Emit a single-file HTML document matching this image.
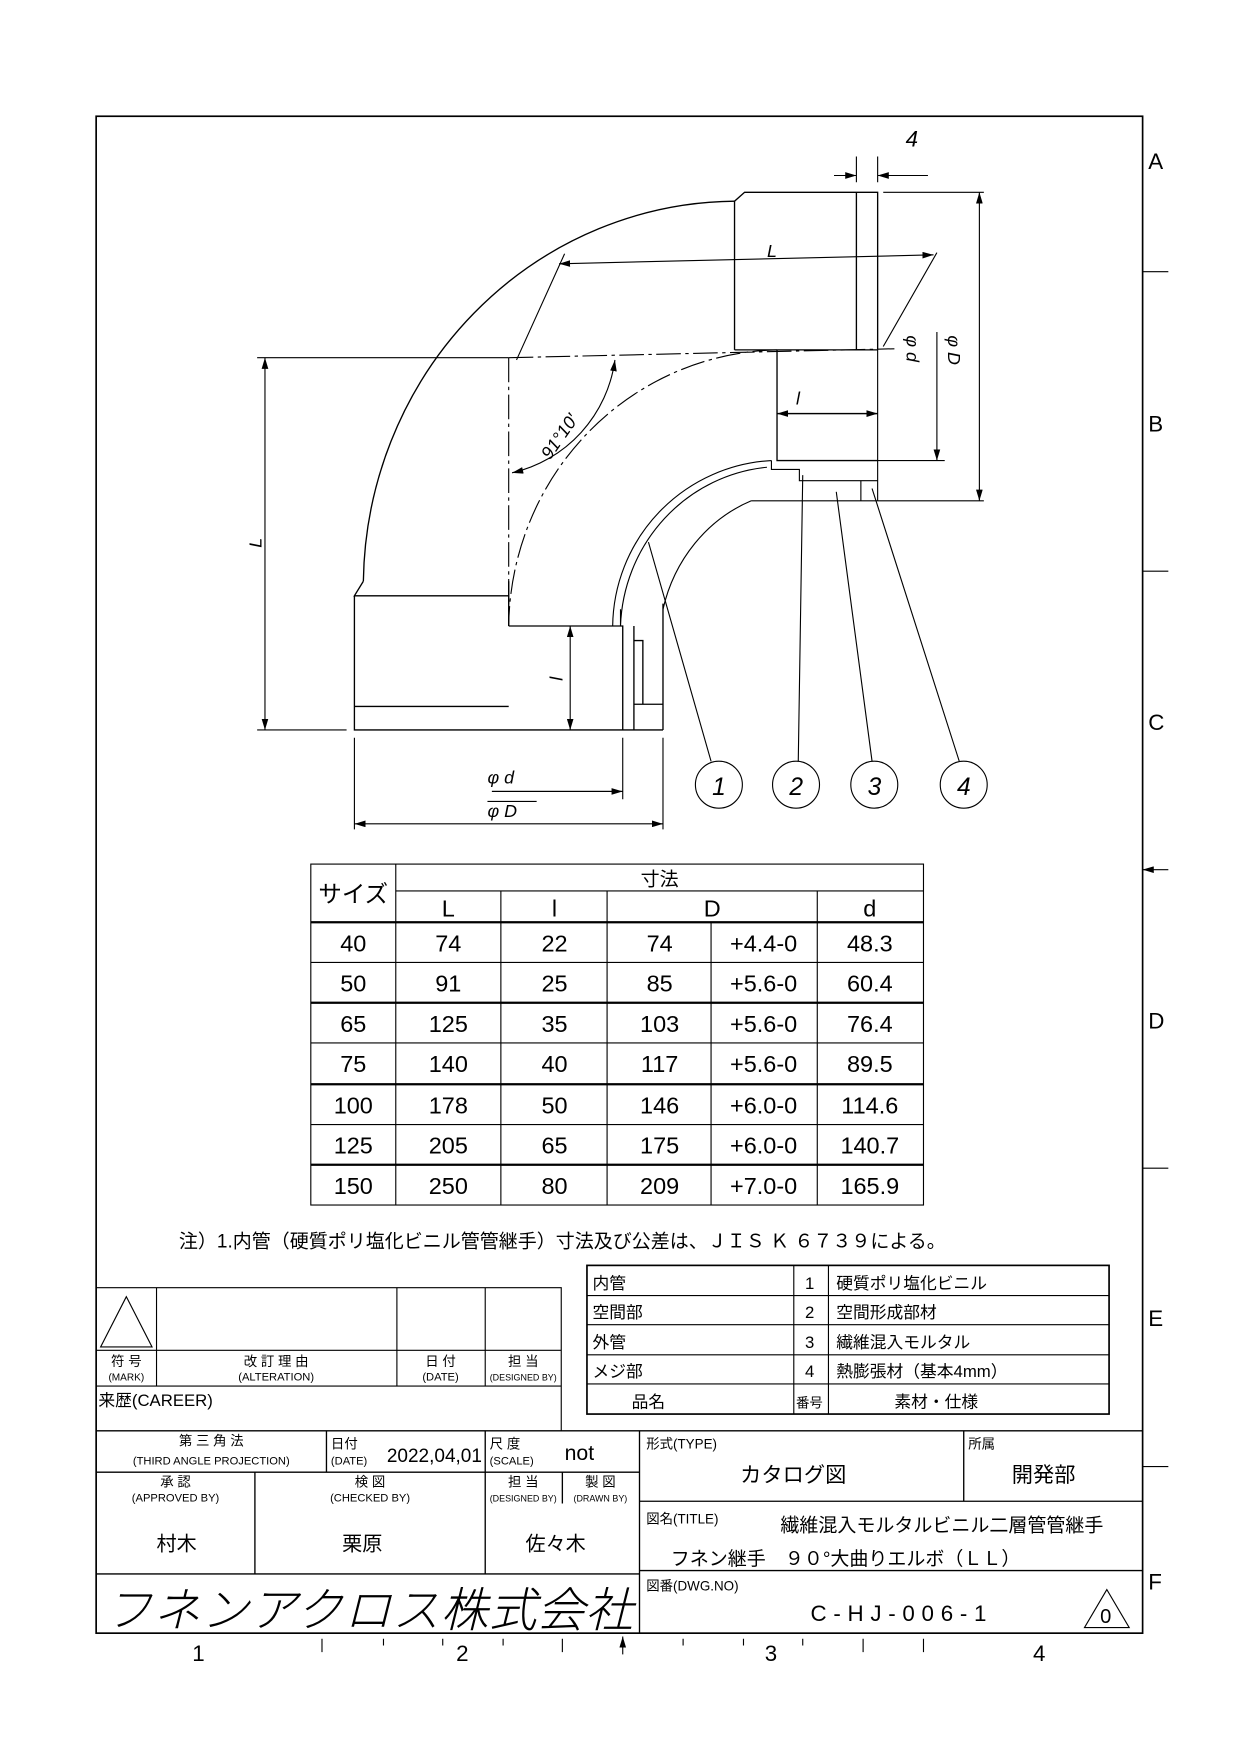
<!DOCTYPE html>
<html><head><meta charset="utf-8"><style>
html,body{margin:0;padding:0;background:#fff}
svg{display:block}
text{font-family:"Liberation Sans","Noto Sans CJK JP",sans-serif;fill:#000}
</style></head><body>
<svg width="1241" height="1755" viewBox="0 0 1110 1570" preserveAspectRatio="none" xmlns="http://www.w3.org/2000/svg">
<defs><marker id="a" markerWidth="10" markerHeight="6" refX="10" refY="3" orient="auto-start-reverse" markerUnits="userSpaceOnUse"><path d="M0,0 L10,3 L0,6z" fill="#000"/></marker></defs>
<g fill="none" stroke="#000" stroke-width="1">
<rect x="86" y="104" width="936" height="1357" stroke-width="1.5"/>
<path d="M1022 243H1045M1022 511H1045M1022 1045H1045M1022 1312H1045"/>
<path d="M1045 778H1022" marker-end="url(#a)"/>
<path d="M288 1466V1478M343 1466V1472M396 1466V1472M450 1466V1472M503 1466V1478M611 1466V1472M665 1466V1472M718 1466V1472M772 1466V1478M826 1466V1478"/>
<path d="M557 1480V1464" marker-end="url(#a)"/>

<path d="M657 313V180L666 172H785V313M766 172V313M657 313H785" stroke-width="1.2"/>
<path d="M766 163V140M785 163V140M746 157H766M805 157H785M785 157H830"/>
<path d="M746 157H766" marker-end="url(#a)"/><path d="M805 157H785" marker-end="url(#a)"/>
<path d="M657 180 A335 345 0 0 0 325 520" stroke-width="1.2"/>
<path d="M325 520L317 533H455M317 533V653H593M317 632H455M455 520V560" stroke-width="1.2"/>
<path d="M455 320L800 312M455 320V560M695 313 A245 250 0 0 0 455 560" stroke-dasharray="22 4 3 4"/>
<path d="M695 313V412H785M695 370H785M455 560H557V653M557 560V653M567 560V653M567 573H575V630M567 630H593M593 540V653" stroke-width="1.2"/>
<path d="M690 412 L690 420 L715 420 V430 H785M715 430V423M690 412 A150 150 0 0 0 548 560M686 418 A145 148 0 0 0 555 560M555 560V545M672 448 A130 140 0 0 0 593 545M672 448H785M770 430V448M785 313V448"/>
<path d="M695 370H785" marker-start="url(#a)" marker-end="url(#a)"/>
<path d="M510 560V653" marker-start="url(#a)" marker-end="url(#a)"/>
<path d="M230 320H455M230 653H310"/>
<path d="M237 320V653" marker-start="url(#a)" marker-end="url(#a)"/>
<path d="M317 660V742M557 660V715M593 660V742M440 708H557"/>
<path d="M440 708H557" marker-end="url(#a)"/>
<path d="M317 737H593" marker-start="url(#a)" marker-end="url(#a)"/>
<path d="M436 717H480"/>
<path d="M505 227L462 322M838 226L790 310"/>
<path d="M500 236L835 228" marker-start="url(#a)" marker-end="url(#a)"/>
<path d="M550 322 A120 120 0 0 1 458 423" marker-start="url(#a)" marker-end="url(#a)"/>
<path d="M785 412H845M790 172H880M785 448H880"/>
<path d="M838 297V412" marker-end="url(#a)"/>
<path d="M876 172V448" marker-start="url(#a)" marker-end="url(#a)"/>
<circle cx="643" cy="702" r="21"/><circle cx="712" cy="702" r="21"/><circle cx="782" cy="702" r="21"/><circle cx="862" cy="702" r="21"/>
<path d="M580 485L636 681M718 425L714 681M748 440L780 681M780 437L858 681"/>

<rect x="278" y="773" width="548" height="305"/>
<path d="M354 797H826M354 773V1078M448 797V1078M543 797V1078M636 825V1078M731 797V1078"/>
<path d="M278 825H826M278 897H826M278 970H826M278 1042H826" stroke-width="2"/>
<path d="M278 861H826M278 933H826M278 1006H826"/>

<rect x="525" y="1132" width="467" height="133" stroke-width="1.5"/>
<path d="M525 1159H992M525 1185H992M525 1212H992M525 1238H992M710 1132V1265M741 1132V1265"/>

<path d="M86 1152H502V1280M86 1208H502M86 1240H502M140 1152V1240M355 1152V1240M434 1152V1240"/>
<path d="M113 1160L90 1205H136Z"/>

<path d="M86 1280H1022M86 1317H572M292 1280V1317M434 1280V1408M503 1317V1345M572 1280V1461M86 1408H572M572 1343H1022M572 1405H1022M862 1280V1343M228 1317V1408" stroke-width="1.2"/>
<path d="M990 1422L970 1456H1010Z"/>
</g>
<g font-size="20">
<text x="1027" y="151">A</text><text x="1027" y="386">B</text><text x="1027" y="653">C</text><text x="1027" y="920">D</text><text x="1027" y="1186">E</text><text x="1027" y="1422">F</text>
<text x="172" y="1486">1</text><text x="408" y="1486">2</text><text x="684" y="1486">3</text><text x="924" y="1486">4</text>
</g>
<g font-style="italic" font-size="16">
<text x="810" y="131" font-size="20">4</text>
<text x="686" y="230">L</text>
<text x="712" y="362">l</text>
<text x="503" y="609" transform="rotate(-90 503 609)">l</text>
<text x="234" y="490" transform="rotate(-90 234 490)">L</text>
<text x="436" y="701">φ d</text>
<text x="436" y="731">φ D</text>
<text x="492" y="412" transform="rotate(-55 492 412)">91°10′</text>
<text x="843" y="332" transform="rotate(90 843 300)" >φ d</text>
<text x="880" y="332" transform="rotate(90 880 300)">φ D</text>
<text x="637" y="711" font-size="22">1</text><text x="706" y="711" font-size="22">2</text><text x="776" y="711" font-size="22">3</text><text x="856" y="711" font-size="22">4</text>
</g>
<g font-size="21" text-anchor="middle">
<text x="316" y="807">サイズ</text><text x="590" y="792" font-size="17">寸法</text>
<text x="401" y="820">L</text><text x="496" y="820">l</text><text x="637" y="820">D</text><text x="778" y="820">d</text>
<text x="316" y="851">40</text><text x="401" y="851">74</text><text x="496" y="851">22</text><text x="590" y="851">74</text><text x="683" y="851">+4.4-0</text><text x="778" y="851">48.3</text>
<text x="316" y="887">50</text><text x="401" y="887">91</text><text x="496" y="887">25</text><text x="590" y="887">85</text><text x="683" y="887">+5.6-0</text><text x="778" y="887">60.4</text>
<text x="316" y="923">65</text><text x="401" y="923">125</text><text x="496" y="923">35</text><text x="590" y="923">103</text><text x="683" y="923">+5.6-0</text><text x="778" y="923">76.4</text>
<text x="316" y="959">75</text><text x="401" y="959">140</text><text x="496" y="959">40</text><text x="590" y="959">117</text><text x="683" y="959">+5.6-0</text><text x="778" y="959">89.5</text>
<text x="316" y="996">100</text><text x="401" y="996">178</text><text x="496" y="996">50</text><text x="590" y="996">146</text><text x="683" y="996">+6.0-0</text><text x="778" y="996">114.6</text>
<text x="316" y="1032">125</text><text x="401" y="1032">205</text><text x="496" y="1032">65</text><text x="590" y="1032">175</text><text x="683" y="1032">+6.0-0</text><text x="778" y="1032">140.7</text>
<text x="316" y="1068">150</text><text x="401" y="1068">250</text><text x="496" y="1068">80</text><text x="590" y="1068">209</text><text x="683" y="1068">+7.0-0</text><text x="778" y="1068">165.9</text>
</g>
<text x="160" y="1116" font-size="17">注）1.内管（硬質ポリ塩化ビニル管管継手）寸法及び公差は、ＪＩＳ Ｋ ６７３９による。</text>
<g font-size="15">
<text x="530" y="1153">内管</text><text x="720" y="1153">1</text><text x="748" y="1153">硬質ポリ塩化ビニル</text>
<text x="530" y="1179">空間部</text><text x="720" y="1179">2</text><text x="748" y="1179">空間形成部材</text>
<text x="530" y="1206">外管</text><text x="720" y="1206">3</text><text x="748" y="1206">繊維混入モルタル</text>
<text x="530" y="1232">メジ部</text><text x="720" y="1232">4</text><text x="748" y="1232">熱膨張材（基本4mm）</text>
<text x="565" y="1259">品名</text><text x="712" y="1259" font-size="12">番号</text><text x="800" y="1259">素材・仕様</text>
</g>
<g font-size="12" text-anchor="middle">
<text x="113" y="1222">符 号</text><text x="113" y="1235" font-size="9">(MARK)</text>
<text x="247" y="1222">改 訂 理 由</text><text x="247" y="1235" font-size="10">(ALTERATION)</text>
<text x="394" y="1222">日 付</text><text x="394" y="1235" font-size="10">(DATE)</text>
<text x="468" y="1222">担 当</text><text x="468" y="1235" font-size="8">(DESIGNED BY)</text>
<text x="189" y="1293">第 三 角 法</text><text x="189" y="1310" font-size="10">(THIRD ANGLE PROJECTION)</text>
<text x="157" y="1330">承 認</text><text x="157" y="1343" font-size="10">(APPROVED BY)</text>
<text x="331" y="1330">検 図</text><text x="331" y="1343" font-size="10">(CHECKED BY)</text>
<text x="468" y="1330">担 当</text><text x="468" y="1343" font-size="8">(DESIGNED BY)</text>
<text x="537" y="1330">製 図</text><text x="537" y="1343" font-size="8">(DRAWN BY)</text>
</g>
<g font-size="12">
<text x="88" y="1258" font-size="15">来歴(CAREER)</text>
<text x="296" y="1296">日付</text><text x="296" y="1310" font-size="10">(DATE)</text>
<text x="346" y="1308" font-size="17">2022,04,01</text>
<text x="438" y="1296">尺 度</text><text x="438" y="1310" font-size="10">(SCALE)</text>
<text x="505" y="1306" font-size="19">not</text>
<text x="578" y="1296">形式(TYPE)</text><text x="662" y="1326" font-size="19">カタログ図</text>
<text x="866" y="1296">所属</text><text x="905" y="1326" font-size="19">開発部</text>
<text x="578" y="1363">図名(TITLE)</text>
<text x="698" y="1370" font-size="17">繊維混入モルタルビニル二層管管継手</text>
<text x="600" y="1400" font-size="17">フネン継手　９０°大曲りエルボ（ＬＬ）</text>
<text x="578" y="1423">図番(DWG.NO)</text>
<text x="725" y="1450" font-size="20" letter-spacing="6">C-HJ-006-1</text>
<text x="984" y="1452" font-size="18">0</text>
<text x="140" y="1387" font-size="18">村木</text><text x="306" y="1387" font-size="18">栗原</text><text x="470" y="1387" font-size="18">佐々木</text>
<text x="94" y="1455" font-size="42" font-style="italic" font-weight="100" fill="none" stroke="#000" stroke-width="0.8" textLength="472">フネンアクロス株式会社</text>
</g>
</svg>
</body></html>
